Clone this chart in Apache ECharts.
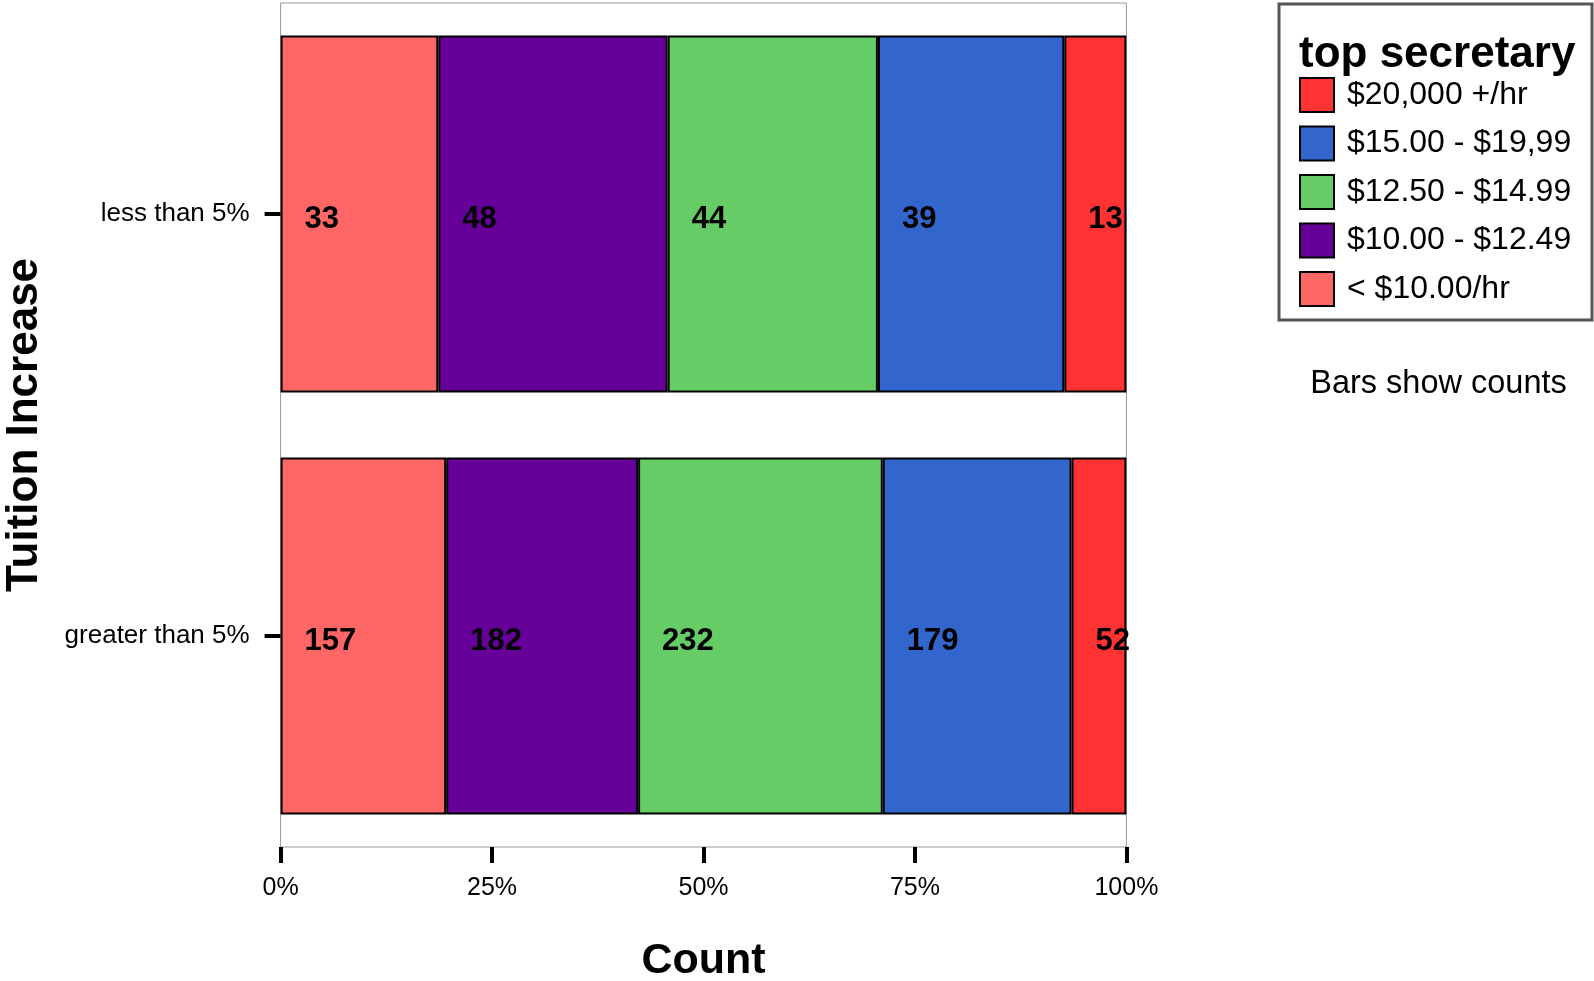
<!DOCTYPE html>
<html>
<head>
<meta charset="utf-8">
<script src="https://cdn.jsdelivr.net/npm/echarts@6/dist/echarts.min.js"></script>
<style>
html,body{margin:0;padding:0;background:#fff;}
#chart{width:1594px;height:981px;}
</style>
</head>
<body>
<div id="chart"></div>
<script>
// ---- data ----
const categories = ['less than 5%', 'greater than 5%'];
const seriesNames = ['< $10.00/hr', '$10.00 - $12.49', '$12.50 - $14.99', '$15.00 - $19,99', '$20,000 +/hr'];
const lessThan5 = [33, 48, 44, 39, 13];
const greaterThan5 = [157, 182, 232, 179, 52];
const xTickLabels = ['0%', '25%', '50%', '75%', '100%'];
const seriesColors = ['#FF6666', '#660099', '#66CC66', '#3366CC', '#FF3333'];

const rows = [lessThan5, greaterThan5];
const totals = rows.map(r => r.reduce((a, b) => a + b, 0));

const FONT = '"Liberation Sans", Arial, Helvetica, sans-serif';

const series = seriesNames.map((name, si) => ({
  name: name,
  type: 'bar',
  stack: 'total',
  barWidth: '84.6%',
  data: rows.map((r, ci) => r[si] / totals[ci] * 100),
  itemStyle: { color: seriesColors[si], borderColor: '#000', borderWidth: 2 },
  label: {
    show: true,
    position: 'insideLeft',
    distance: 24,
    offset: [0, 5],
    fontFamily: FONT,
    fontSize: 31,
    fontWeight: 'bold',
    color: '#000',
    formatter: p => String(rows[p.dataIndex][si])
  },
  emphasis: { disabled: true }
}));

const chart = echarts.init(document.getElementById('chart'), null, { renderer: 'canvas' });
chart.setOption({
  animation: false,
  backgroundColor: '#fff',
  textStyle: { fontFamily: FONT },
  grid: {
    left: 280.6, right: 467.6, top: 3, bottom: 134,
    show: true, borderColor: '#999', borderWidth: 1, backgroundColor: 'transparent',
    containLabel: false, outerBoundsMode: 'none'
  },
  xAxis: {
    type: 'value', min: 0, max: 100, interval: 25,
    name: 'Count', nameLocation: 'middle', nameGap: 93, nameMoveOverlap: false,
    nameTextStyle: { fontFamily: FONT, fontSize: 43, fontWeight: 'bold', color: '#000' },
    axisLine: { show: false },
    axisTick: { show: true, length: 16, lineStyle: { color: '#000', width: 4 } },
    splitLine: { show: false },
    axisLabel: {
      fontFamily: FONT, fontSize: 25, color: '#000', margin: 29,
      formatter: (v) => xTickLabels[Math.round(v / 25)]
    }
  },
  yAxis: {
    type: 'category', data: categories, inverse: true,
    name: 'Tuition Increase', nameLocation: 'middle', nameGap: 234, nameRotate: 90, nameMoveOverlap: false,
    nameTextStyle: { fontFamily: FONT, fontSize: 44, fontWeight: 'bold', color: '#000' },
    axisLine: { show: false },
    axisTick: { show: true, alignWithLabel: true, length: 16, lineStyle: { color: '#000', width: 4 } },
    splitLine: { show: false },
    axisLabel: { fontFamily: FONT, fontSize: 26, color: '#000', margin: 31, padding: [7, 0, 0, 0] }
  },
  title: [
    { text: 'top secretary', left: 1299, top: 33, padding: 0,
      textStyle: { fontFamily: FONT, fontSize: 44, fontWeight: 'bold', color: '#000' } },
    { text: 'Bars show counts', left: 1438.5, top: 368, textAlign: 'center', padding: 0,
      textStyle: { fontFamily: FONT, fontSize: 32.5, fontWeight: 'normal', color: '#000' } }
  ],
  legend: {
    orient: 'vertical', left: 1299, top: 77, padding: 0,
    data: seriesNames.slice().reverse(),
    icon: 'rect', itemWidth: 34, itemHeight: 34, itemGap: 12.5,
    itemStyle: { borderColor: '#000', borderWidth: 2 },
    selectedMode: false,
    textStyle: { fontFamily: FONT, fontSize: 32, color: '#000', lineHeight: 34, padding: [0, 0, 0, 8] }
  },
  graphic: [
    { type: 'rect', shape: { x: 1279, y: 4, width: 313, height: 316 },
      style: { fill: 'none', stroke: '#555', lineWidth: 3 }, silent: true, z: -1 }
  ],
  series: series
});
</script>
</body>
</html>
